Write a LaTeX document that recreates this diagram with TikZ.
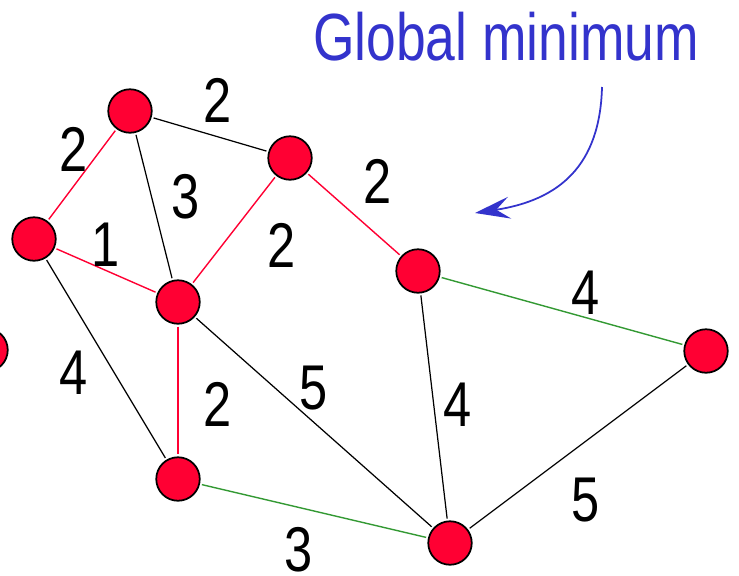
\documentclass[tikz,border=0pt]{standalone}
\usepackage{fontspec}
\setmainfont{Liberation Sans}[FakeStretch=0.8]
\usepackage{tikz}
\usetikzlibrary{arrows.meta,positioning}
\definecolor{mstred}{HTML}{FF0033}
\definecolor{mstgreen}{HTML}{339933}
\definecolor{mstblue}{HTML}{3333CC}
\tikzstyle{vertex} = [circle, draw=black, line width=1pt, fill=mstred,
    minimum size=0.87cm, inner sep=0pt, outer sep=1.6pt]
\tikzstyle{weight} = [font=\fontsize{36}{40}\selectfont, inner sep=0pt]
\tikzstyle{edge} = [line width=0.7pt, black]
\tikzstyle{treeedge} = [line width=0.8pt, mstred]
\tikzstyle{newedge} = [line width=0.8pt, mstgreen]
\tikzstyle{pointer} = [-{Stealth[length=7mm, width=4.4mm, inset=2.7mm]}, line width=1pt, mstblue]

\begin{document}
\begin{tikzpicture}[x=0.02cm, y=-0.02cm]
\useasboundingbox (0,0) rectangle (739,575);

\node[vertex] (a) at (130,111) {};
\node[vertex] (b) at (290,158) {};
\node[vertex] (c) at (34,239) {};
\node[vertex] (d) at (178,302) {};
\node[vertex] (e) at (418,271) {};
\node[vertex] (f) at (706,351) {};
\node[vertex] (g) at (178,479) {};
\node[vertex] (h) at (450,543) {};
\node[vertex] (out) at (-14,350) {};

\draw[treeedge] (a) -- (c);
\draw[edge] (a) -- (b);
\draw[edge] (a) -- (d);
\draw[treeedge] (c) -- (d);
\draw[treeedge] (b) -- (d);
\draw[treeedge] (b) -- (e);
\draw[edge] (c) -- (g);
\draw[treeedge] (d) -- (g);
\draw[edge] (d) -- (h);
\draw[edge] (e) -- (h);
\draw[newedge] (e) -- (f);
\draw[edge] (f) -- (h);
\draw[newedge] (g) -- (h);

\node[weight] (wac) at (73.5,149.5) {2};
\node[weight] (wab) at (217.5,100) {2};
\node[weight] (wad) at (186,197) {3};
\node[weight] (wcd) at (106,245) {1};
\node[weight] (wbd) at (282,245) {2};
\node[weight] (wbe) at (378,181) {2};
\node[weight] (wcg) at (74,372.5) {4};
\node[weight] (wdg) at (217.5,404.5) {2};
\node[weight] (wdh) at (314,388.5) {5};
\node[weight] (weh) at (457.5,404.5) {4};
\node[weight] (wef) at (586,292.5) {4};
\node[weight] (wfh) at (586,500.5) {5};
\node[weight] (wgh) at (298.5,549.5) {3};

\node[font=\fontsize{38}{42}\selectfont, text=mstblue, inner sep=0pt] (title) at (506,36.5) {Global minimum};
\coordinate (tip) at (475,213);
\draw[pointer] (602,87) .. controls (600,165) and (560,200) .. (tip);

\end{tikzpicture}
\end{document}
